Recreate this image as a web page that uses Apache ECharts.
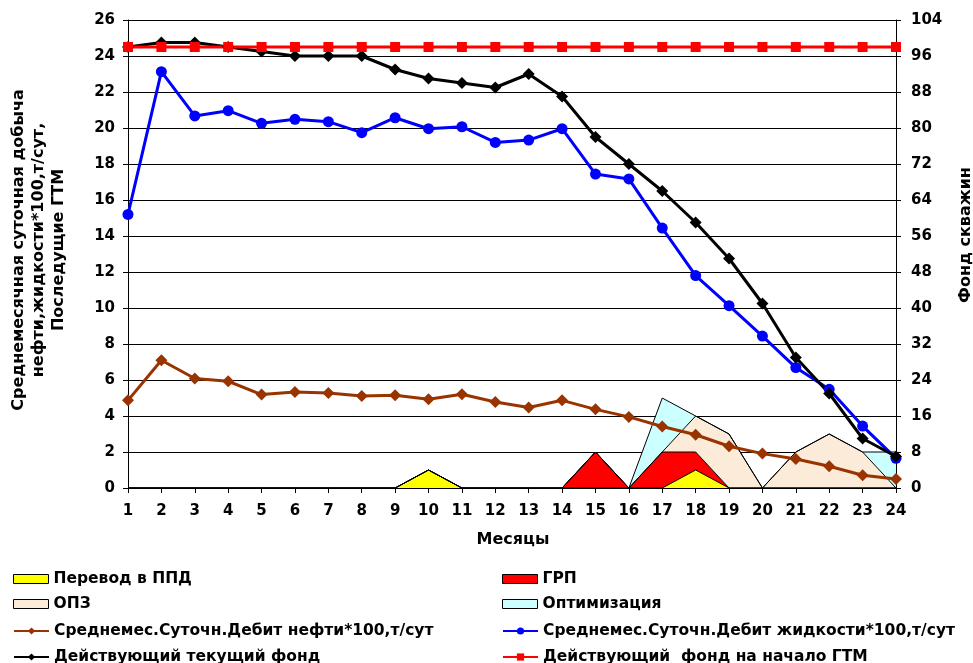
<!DOCTYPE html>
<html><head><meta charset="utf-8">
<script src="https://cdn.jsdelivr.net/npm/echarts@6/dist/echarts.min.js"></script>
<style>html,body{margin:0;padding:0;background:#fff}#c{width:973px;height:663px}</style>
</head><body><div id="c"></div>
<script>
const months = ['1','2','3','4','5','6','7','8','9','10','11','12','13','14','15','16','17','18','19','20','21','22','23','24'];
const leftTicks = [0,2,4,6,8,10,12,14,16,18,20,22,24,26];
const rightTicks = [0,8,16,24,32,40,48,56,64,72,80,88,96,104];
// ГТМ (stacked areas, left axis)
const ppd = [0,0,0,0,0,0,0,0,0,1,0,0,0,0,0,0,0,1,0,0,0,0,0,0];
const grp = [0,0,0,0,0,0,0,0,0,0,0,0,0,0,2,0,2,1,0,0,0,0,0,0];
const opz = [0,0,0,0,0,0,0,0,0,0,0,0,0,0,0,0,0,2,3,0,2,3,2,0];
const opt = [0,0,0,0,0,0,0,0,0,0,0,0,0,0,0,0,3,0,0,0,0,0,0,2];
// rates (left axis)
const oil = [4.87,7.1,6.08,5.93,5.19,5.34,5.28,5.11,5.15,4.93,5.21,4.78,4.47,4.87,4.37,3.95,3.42,2.96,2.32,1.91,1.61,1.21,0.71,0.5];
const liquid = [15.2,23.13,20.67,20.96,20.26,20.48,20.35,19.74,20.57,19.96,20.07,19.2,19.33,19.96,17.44,17.17,14.44,11.8,10.13,8.44,6.69,5.48,3.44,1.65];
// fonds (right axis)
const currentFond = [98,99,99,98,97,96,96,96,93,91,90,89,92,87,78,72,66,59,51,41,29,21,11,7];
const startFond = [98,98,98,98,98,98,98,98,98,98,98,98,98,98,98,98,98,98,98,98,98,98,98,98];

const names = {
  ppd:'Перевод в ППД', grp:'ГРП', opz:'ОПЗ', opt:'Оптимизация',
  oil:'Среднемес.Суточн.Дебит нефти*100,т/сут',
  liq:'Среднемес.Суточн.Дебит жидкости*100,т/сут',
  cur:'Действующий текущий фонд',
  start:'Действующий  фонд на начало ГТМ'
};
const COLORS = {ppd:'#FFFF00', grp:'#FF0000', opz:'#FBEBD8', opt:'#CCFFFF'};
const FONT = 'DejaVu Sans';
const chart = echarts.init(document.getElementById('c'));
function area(name, data, color){
  return {name, type:'line', data, stack:'gtm', yAxisIndex:0, symbol:'none', z:1,
    lineStyle:{color:'#000', width:1}, itemStyle:{color:color},
    areaStyle:{color:color, opacity:1}, emphasis:{disabled:true}};
}
function lineS(name, data, color, symbol, size, axis){
  return {name, type:'line', data, yAxisIndex:axis, symbol, symbolSize:size, z:5,
    lineStyle:{color, width:3}, itemStyle:{color}, emphasis:{disabled:true}};
}
const legendText = {fontFamily:FONT, fontWeight:'bold', fontSize:15.5, color:'#000', lineHeight:16};
const areaLegend = (n,c)=>({name:n, icon:'rect', itemStyle:{color:c, borderColor:'#000', borderWidth:1}});
function leg(left, cy, item){
  return {left, top:cy-8, padding:0, itemWidth:35, itemHeight:9, itemGap:4,
    textStyle:legendText, selectedMode:false, data:[item]};
}
const axisLbl = {fontFamily:FONT, fontWeight:'bold', fontSize:15, color:'#000'};
chart.setOption({
  animation:false,
  textStyle:{fontFamily:FONT},
  grid:{left:128, right:77, top:20, bottom:175},
  xAxis:{type:'category', data:months, boundaryGap:false,
    axisLine:{lineStyle:{color:'#000', width:1}},
    axisTick:{show:true, length:5, lineStyle:{color:'#000'}},
    axisLabel:Object.assign({margin:16, interval:0}, axisLbl)},
  yAxis:[
    {type:'value', min:0, max:26, interval:2, position:'left',
      axisLine:{show:true, lineStyle:{color:'#000'}},
      axisTick:{show:true, length:5, lineStyle:{color:'#000'}},
      splitLine:{show:true, lineStyle:{color:'#000', width:1}},
      axisLabel:Object.assign({margin:13, formatter:v=>leftTicks.includes(v)?String(v):''}, axisLbl)},
    {type:'value', min:0, max:104, interval:8, position:'right',
      axisLine:{show:true, lineStyle:{color:'#000'}},
      axisTick:{show:true, length:5, lineStyle:{color:'#000'}},
      splitLine:{show:false},
      axisLabel:Object.assign({margin:15, formatter:v=>rightTicks.includes(v)?String(v):''}, axisLbl)}
  ],
  legend:[
    leg(13, 579, areaLegend(names.ppd, COLORS.ppd)),
    leg(13, 604, areaLegend(names.opz, COLORS.opz)),
    leg(13, 631, names.oil),
    leg(13, 657, names.cur),
    leg(502, 579, areaLegend(names.grp, COLORS.grp)),
    leg(502, 604, areaLegend(names.opt, COLORS.opt)),
    leg(502, 631, names.liq),
    leg(502, 657, names.start)
  ],
  graphic:[
    {type:'text', x:39, y:250, rotation:Math.PI/2,
      style:{text:'Среднемесячная суточная добыча\nнефти,жидкости*100,т/сут,\nПоследущие ГТМ',
        fontFamily:FONT, fontWeight:'bold', fontSize:16, lineHeight:20, fill:'#000',
        align:'center', verticalAlign:'middle'}},
    {type:'text', x:966, y:235, rotation:Math.PI/2,
      style:{text:'Фонд скважин', fontFamily:FONT, fontWeight:'bold', fontSize:16, fill:'#000',
        align:'center', verticalAlign:'middle'}},
    {type:'text', x:513, y:540,
      style:{text:'Месяцы', fontFamily:FONT, fontWeight:'bold', fontSize:16, fill:'#000',
        align:'center', verticalAlign:'middle'}}
  ],
  series:[
    area(names.ppd, ppd, COLORS.ppd),
    area(names.grp, grp, COLORS.grp),
    area(names.opz, opz, COLORS.opz),
    area(names.opt, opt, COLORS.opt),
    lineS(names.oil, oil, '#993300', 'diamond', 12, 0),
    lineS(names.liq, liquid, '#0000FF', 'circle', 11, 0),
    lineS(names.cur, currentFond, '#000000', 'diamond', 12, 1),
    lineS(names.start, startFond, '#FF0000', 'rect', 10, 1)
  ]
});
</script></body></html>
